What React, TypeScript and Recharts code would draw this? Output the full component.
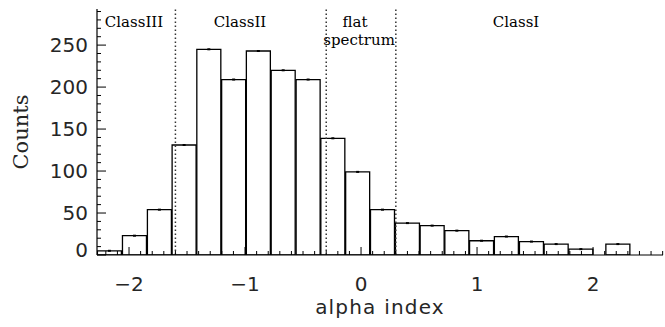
import React from 'react';
import { ComposedChart, Bar, XAxis, YAxis, ReferenceLine, Scatter, LabelList } from 'recharts';

// histogram bins (alpha index bin centre) and counts
const binCenters = [
  -2.166, -1.950, -1.735, -1.522, -1.309, -1.095, -0.882, -0.668, -0.453, -0.240,
  -0.026, 0.188, 0.403, 0.616, 0.829, 1.042, 1.256, 1.472, 1.685, 1.898, 2.217,
];
const counts = [5, 23, 54, 131, 245, 209, 243, 220, 209, 139, 99, 54, 38, 35, 29, 17, 22, 16, 13, 7, 13];

const xMajorTicks = [-2, -1, 0, 1, 2];
const xTickLabels = ['\u22122', '\u22121', '0', '1', '2'];
const yMajorTicks = [0, 50, 100, 150, 200, 250];
const yTickLabels = ['0', '50', '100', '150', '200', '250'];

const classBoundaries = [-1.6, -0.3, 0.3];
const annotationTexts = ['ClassIII', 'ClassII', 'flat', 'spectrum', 'ClassI'];
const annotationX = [-1.957, -1.043, -0.052, -0.017, 1.336];
const annotationY = [272, 272, 272, 250.5, 272];

const X_DOMAIN: [number, number] = [-2.276, 2.603];
const Y_DOMAIN: [number, number] = [0, 293];

const xTicks: number[] = [];
for (let i = -22; i <= 26; i++) xTicks.push(Math.round(i) / 10);
const yTicks: number[] = [];
for (let v = 0; v <= 290; v += 10) yTicks.push(v);

const histData = binCenters.map((x, i) => ({ x, count: counts[i] }));
const annotations = annotationTexts.map((t, i) => ({ ax: annotationX[i], ay: annotationY[i], label: t }));

const SANS = "'DejaVu Sans', sans-serif";
const SERIF = "'DejaVu Serif', serif";
const TEXT_FILL = '#262626';

const isMajor = (v: number, step: number) => Math.abs(v / step - Math.round(v / step)) < 1e-6;

const BottomTick = (props: any) => {
  const { x, y, payload } = props;
  const v = payload.value;
  const major = isMajor(v, 1);
  const idx = xMajorTicks.findIndex((m) => Math.abs(m - v) < 1e-6);
  return (
    <g>
      <line x1={x} x2={x} y1={y} y2={y - (major ? 8 : 4)} stroke="#000" strokeWidth={1} />
      {major && idx >= 0 && (
        <text x={x} y={y + 36} textAnchor="middle" fontFamily={SANS} fontSize={20} fill={TEXT_FILL}>
          {xTickLabels[idx]}
        </text>
      )}
    </g>
  );
};

const TopTick = (props: any) => {
  const { x, y, payload } = props;
  const major = isMajor(payload.value, 1);
  return <line x1={x} x2={x} y1={y} y2={y + (major ? 8 : 4)} stroke="#000" strokeWidth={1} />;
};

const LeftTick = (props: any) => {
  const { x, y, payload } = props;
  const v = payload.value;
  const major = isMajor(v, 50);
  const idx = yMajorTicks.indexOf(v);
  return (
    <g>
      <line x1={x} x2={x + (major ? 9 : 4)} y1={y} y2={y} stroke="#000" strokeWidth={1} />
      {major && idx >= 0 && (
        <text x={x - 9} y={y + (v === 0 ? 2 : 7)} textAnchor="end" fontFamily={SANS} fontSize={20} fill={TEXT_FILL}>
          {yTickLabels[idx]}
        </text>
      )}
    </g>
  );
};

const RightTick = (props: any) => {
  const { x, y, payload } = props;
  const major = isMajor(payload.value, 50);
  return <line x1={x} x2={x - (major ? 9 : 4)} y1={y} y2={y} stroke="#000" strokeWidth={1} />;
};

const ErrTick = (props: any) => {
  const { x, y, width } = props;
  if (x == null || y == null) return null;
  const cx = x + width / 2;
  return <line x1={cx - 1.5} x2={cx + 1.5} y1={y} y2={y} stroke="#000" strokeWidth={2} />;
};

const AnnotationShape = (props: any) => {
  const { cx, cy, payload } = props;
  return (
    <text x={cx} y={cy} textAnchor="middle" fontFamily={SERIF} fontSize={15} fill="#000">
      {payload.label}
    </text>
  );
};

const YLabel = (props: any) => {
  const vb = props.viewBox || { x: 0, y: 9, width: 97, height: 246 };
  const cy = vb.y + vb.height / 2;
  return (
    <text transform={`translate(28, ${cy}) rotate(-90)`} textAnchor="middle" fontFamily={SERIF} fontSize={21} fill={TEXT_FILL}>
      Counts
    </text>
  );
};

const XLabel = (props: any) => {
  const vb = props.viewBox || { x: 97, y: 255, width: 566, height: 72 };
  return (
    <text x={vb.x + vb.width / 2} y={314} textAnchor="middle" fontFamily={SANS} fontSize={20} letterSpacing={1.2} fill={TEXT_FILL}>
      alpha index
    </text>
  );
};

export default function App() {
  return (
    <div style={{ position: 'absolute', left: 0, top: 0, background: '#fff' }}>
      <ComposedChart width={665} height={327} data={histData} margin={{ top: 9, right: 2, bottom: 0, left: 0 }}>
        <XAxis
          xAxisId="b"
          dataKey="x"
          type="number"
          orientation="bottom"
          domain={X_DOMAIN}
          allowDataOverflow
          ticks={xTicks}
          interval={0}
          tickLine={false}
          tickSize={0}
          tickMargin={0}
          height={72}
          axisLine={{ stroke: '#000', strokeWidth: 1.2 }}
          tick={<BottomTick />}
          label={<XLabel />}
        />
        <XAxis
          xAxisId="t"
          dataKey="ax"
          type="number"
          orientation="top"
          domain={X_DOMAIN}
          allowDataOverflow
          ticks={xTicks}
          interval={0}
          tickLine={false}
          tickSize={0}
          tickMargin={0}
          height={0}
          axisLine={{ stroke: '#000', strokeWidth: 1.2 }}
          tick={<TopTick />}
        />
        <YAxis
          yAxisId="l"
          type="number"
          orientation="left"
          domain={Y_DOMAIN}
          allowDataOverflow
          ticks={yTicks}
          interval={0}
          tickLine={false}
          tickSize={0}
          tickMargin={0}
          width={97}
          axisLine={{ stroke: '#000', strokeWidth: 1.2 }}
          tick={<LeftTick />}
          label={<YLabel />}
        />
        <YAxis
          yAxisId="r"
          type="number"
          orientation="right"
          domain={Y_DOMAIN}
          allowDataOverflow
          ticks={yTicks}
          interval={0}
          tickLine={false}
          tickSize={0}
          tickMargin={0}
          width={0}
          axisLine={{ stroke: '#000', strokeWidth: 1.2 }}
          tick={<RightTick />}
        />
        <Bar
          xAxisId="b"
          yAxisId="l"
          dataKey="count"
          fill="none"
          stroke="#000"
          strokeWidth={1.3}
          barSize={24}
          isAnimationActive={false}
        >
          <LabelList dataKey="count" content={<ErrTick />} />
        </Bar>
        {classBoundaries.map((b) => (
          <ReferenceLine
            key={b}
            xAxisId="b"
            yAxisId="l"
            x={b}
            stroke="#333"
            strokeWidth={1.5}
            strokeDasharray="1.5 2.5"
          />
        ))}
        <Scatter
          xAxisId="t"
          yAxisId="r"
          data={annotations}
          dataKey="ay"
          shape={<AnnotationShape />}
          isAnimationActive={false}
        />
      </ComposedChart>
    </div>
  );
}
